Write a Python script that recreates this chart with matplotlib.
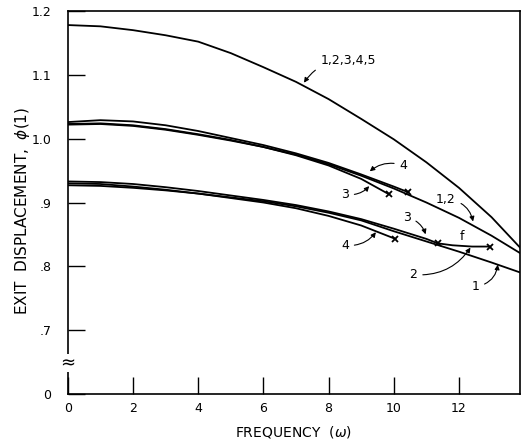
import matplotlib
matplotlib.use("Agg")
import matplotlib.pyplot as plt

# top curve, all cases (1,2,3,4,5)
x_all = [0, 1, 2, 3, 4, 5, 6, 7, 8, 9, 10, 11, 12, 13, 13.9]
y_all = [1.178, 1.176, 1.170, 1.162, 1.152, 1.134, 1.112, 1.089, 1.062, 1.031,
         0.999, 0.963, 0.923, 0.877, 0.828]

# middle group
x_m12 = [0, 1, 2, 3, 4, 5, 6, 7, 8, 9, 10, 11, 12, 13, 13.9]
y_m12 = [1.022, 1.023, 1.020, 1.014, 1.006, 0.997, 0.987, 0.975, 0.960, 0.942,
         0.922, 0.900, 0.876, 0.848, 0.820]
x_m4 = [0, 1, 2, 3, 4, 5, 6, 7, 8, 9, 10, 10.45]
y_m4 = [1.026, 1.029, 1.027, 1.021, 1.012, 1.001, 0.990, 0.977, 0.962, 0.944, 0.925, 0.916]
x_m3 = [0, 1, 2, 3, 4, 5, 6, 7, 8, 9, 9.85]
y_m3 = [1.023, 1.024, 1.021, 1.015, 1.007, 0.998, 0.987, 0.974, 0.958, 0.937, 0.913]

# bottom group
x_b1 = [0, 1, 2, 3, 4, 5, 6, 7, 8, 9, 10, 11, 12, 13, 13.9]
y_b1 = [0.927, 0.926, 0.923, 0.919, 0.914, 0.908, 0.902, 0.894, 0.884, 0.872,
        0.855, 0.839, 0.823, 0.806, 0.790]
x_b3 = [0, 1, 2, 3, 4, 5, 6, 7, 8, 9, 10, 11, 11.35]
y_b3 = [0.933, 0.932, 0.929, 0.924, 0.918, 0.911, 0.904, 0.896, 0.886, 0.874, 0.859, 0.843, 0.836]
x_b4 = [0, 1, 2, 3, 4, 5, 6, 7, 8, 9, 10.05]
y_b4 = [0.930, 0.929, 0.925, 0.920, 0.914, 0.907, 0.900, 0.891, 0.879, 0.864, 0.843]
x_f = [11.35, 11.8, 12.4, 12.95]
y_f = [0.836, 0.833, 0.831, 0.831]

xticks = [0, 2, 4, 6, 8, 10, 12]
yticks = [0.6, 0.7, 0.8, 0.9, 1.0, 1.1, 1.2]
ylabels = ["0", ".7", ".8", ".9", "1.0", "1.1", "1.2"]

fig = plt.figure(figsize=(5.22, 4.44), dpi=100)
ax = fig.add_axes([0.130, 0.1126, 0.866, 0.8626])

lw = 1.3
for xs, ys in [(x_all, y_all), (x_m12, y_m12), (x_m4, y_m4), (x_m3, y_m3),
               (x_b1, y_b1), (x_b3, y_b3), (x_b4, y_b4), (x_f, y_f)]:
    ax.plot(xs, ys, color="black", lw=lw)

# end markers
for xs, ys in [(x_m4, y_m4), (x_m3, y_m3), (x_b3, y_b3), (x_b4, y_b4), (x_f, y_f)]:
    ax.plot(xs[-1], ys[-1], marker="x", color="black", ms=5, mew=1.3)

ax.set_xlim(0, 13.87)
ax.set_ylim(0.6, 1.195)
ax.set_xticks(xticks)
ax.set_yticks(yticks)
ax.set_yticklabels(ylabels)
ax.tick_params(direction="in", length=12, width=1, labelsize=9)
ax.tick_params(axis="y", pad=12)
ax.tick_params(axis="x", pad=6)
for s in ax.spines.values():
    s.set_linewidth(1.2)

ax.set_xlabel("FREQUENCY  ($\\omega$)", fontsize=10, labelpad=6)
ax.set_ylabel("EXIT  DISPLACEMENT,  $\\phi$(1)", fontsize=11)
ax.yaxis.set_label_coords(-0.08, 0.478)

# axis break mark
ax.text(0, 0.648, "≈", ha="center", va="center", fontsize=13,
        clip_on=False, bbox=dict(fc="white", ec="none", pad=0))

arr = dict(arrowstyle="-|>", color="black", lw=0.8, mutation_scale=7)

def label(txt, xy, xytext, rad):
    ax.annotate(txt, xy=xy, xytext=xytext, fontsize=9, ha="center", va="center",
                arrowprops=dict(connectionstyle="arc3,rad=%s" % rad, **arr))

label("1,2,3,4,5", (7.2, 1.084), (8.6, 1.122), 0.3)
label("4", (9.2, 0.946), (10.3, 0.958), 0.3)
label("3", (9.3, 0.929), (8.5, 0.913), 0.3)
label("1,2", (12.45, 0.866), (11.6, 0.905), -0.4)
label("3", (11.0, 0.846), (10.4, 0.877), -0.3)
label("4", (9.5, 0.857), (8.5, 0.833), 0.3)
label("2", (12.4, 0.833), (10.6, 0.787), 0.3)
label("1", (13.2, 0.807), (12.5, 0.768), 0.4)
ax.text(12.1, 0.847, "f", fontsize=9, ha="center", va="center")

fig.savefig("out.png", dpi=100)
